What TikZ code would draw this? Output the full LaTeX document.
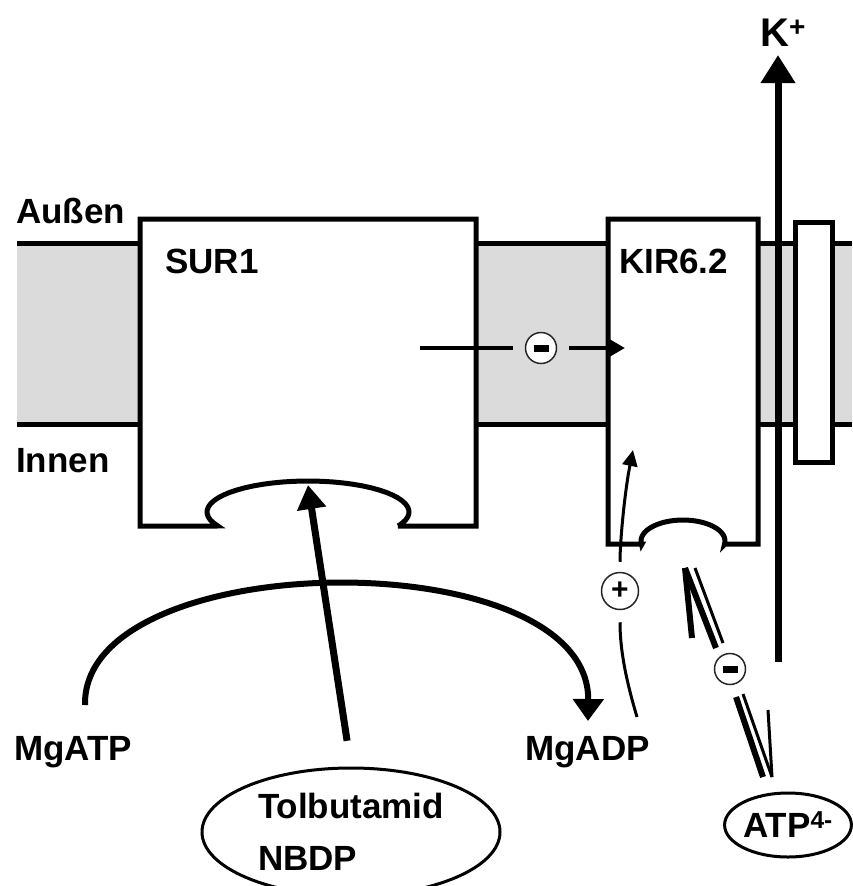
\documentclass[tikz,border=0pt]{standalone}
\usepackage{fontspec}
\setmainfont{Liberation Sans}
\usetikzlibrary{arrows.meta,shapes.geometric}

\begin{document}
\begin{tikzpicture}[
    x=1pt, y=-1pt,
    lbl/.style={font=\bfseries\fontsize{35}{52}\selectfont, inner sep=0pt},
    unit/.style={draw=black, line width=5pt, fill=white},
    sign/.style={circle, draw=black!85, line width=1.5pt, fill=white,
        inner sep=0pt, minimum size=31pt},
    molecule/.style={ellipse, draw=black, line width=3pt, lbl},
    bigarr/.style={line width=7pt, -{Triangle[length=28pt, width=33pt]}},
    tolarr/.style={line width=7pt, -{Triangle[length=24pt, width=28pt]}},
    arcarr/.style={line width=6pt, -{Triangle[length=22pt, width=30pt]}},
    thinarr/.style={line width=3pt, -{Triangle[length=16pt, width=15pt]}}
]
    \useasboundingbox (0,0) rectangle (852,886);

    % membrane
    \fill[black!14] (17,243) rectangle (852,424);
    \draw[line width=5pt] (17,243) -- (852,243);
    \draw[line width=5pt] (17,424) -- (852,424);

    % SUR1 with binding pocket
    \draw[unit] (140,526) -- (140,219) -- (476,219) -- (476,526) -- (398,526)
        -- plot[domain=-26.8:206.8, samples=40] ({308+101*cos(\x)}, {512-31*sin(\x)})
        -- (217,526) -- cycle;

    % KIR6.2 with binding pocket
    \draw[unit] (608,544) -- (608,219) -- (758,219) -- (758,544) -- (725,544)
        -- plot[domain=-10:190, samples=30] ({683+42*cos(\x)}, {541-21*sin(\x)})
        -- (642,544) -- cycle;
    \draw[unit] (795,222) rectangle (832,462);

    % labels
    \node[lbl, anchor=base west] (aussen) at (16,223) {Außen};
    \node[lbl, anchor=base west] (innen) at (16,472) {Innen};
    \node[lbl, anchor=base west] (sur) at (165,273) {SUR1};
    \node[lbl, anchor=base west] (kir) at (619,273) {KIR6.2};
    \node[lbl, anchor=base west] (mgatp) at (14,760) {MgATP};
    \node[lbl, anchor=base west] (mgadp) at (525,760) {MgADP};
    \node[lbl, font=\bfseries\fontsize{40}{40}\selectfont, anchor=base west]
        (kion) at (760,46) {K\textsuperscript{+}};
    \node[molecule, minimum width=298pt, minimum height=128pt, align=left]
        (tolb) at (351,832) {Tolbutamid\\NBDP};
    \node[molecule, minimum width=126pt, minimum height=64pt]
        (atp) at (788,825) {ATP\textsuperscript{4-}};

    % K+ flux
    \coordinate (kfoot) at (778,662);
    \coordinate (ktip) at (778,55);
    \draw[bigarr] (kfoot) -- (ktip);

    % Tolbutamid -> SUR1
    \coordinate (sursite) at (308,485);
    \draw[tolarr, shorten <=26pt] (tolb.north) -- (sursite);

    % MgATP -> MgADP
    \coordinate (atpstart) at (85,705);
    \coordinate (adpend) at (588,721);
    \draw[arcarr] (atpstart) .. controls (82,545) and (590,540) .. (adpend);

    % inhibition SUR1 -> KIR6.2
    \node[sign] (hemm) at (541,348) {\rule{15pt}{7pt}};
    \coordinate (hemmstart) at (420,348);
    \coordinate (hemmend) at (625,348);
    \draw[line width=4pt, shorten >=12pt] (hemmstart) -- (hemm);
    \draw[line width=4pt, -{Triangle[length=15pt, width=16pt]}, shorten <=12pt]
        (hemm) -- (hemmend);

    % activation by MgADP
    \node[sign, minimum size=37pt] (aktiv) at (620,591)
        {\fontsize{30}{30}\selectfont\bfseries +};
    \coordinate (adpstart) at (637,717);
    \coordinate (kirsite) at (633,450);
    \draw[line width=3pt, shorten >=12pt]
        (adpstart) .. controls (626,680) and (620,650) .. (aktiv);
    \draw[thinarr, shorten <=10pt]
        (aktiv) .. controls (620,540) and (625,490) .. (kirsite);

    % ATP binding equilibrium
    \node[sign] (atphemm) at (730,669) {\rule{15pt}{7pt}};
    \coordinate (upA) at (685,568);
    \coordinate (upB) at (716,648);
    \coordinate (upC) at (736,697);
    \coordinate (upD) at (763,777);
    \coordinate (dnA) at (695,568);
    \coordinate (dnB) at (723,643);
    \coordinate (dnC) at (743,694);
    \coordinate (dnD) at (772,777);
    \draw[line width=6pt] (upA) -- (upB);
    \draw[line width=6pt] (upC) -- (upD);
    \draw[line width=6pt] (upA) -- (692,638);
    \draw[line width=3pt] (dnA) -- (dnB);
    \draw[line width=3pt] (dnC) -- (dnD);
    \draw[line width=3pt] (dnD) -- (768,710);
\end{tikzpicture}
\end{document}
